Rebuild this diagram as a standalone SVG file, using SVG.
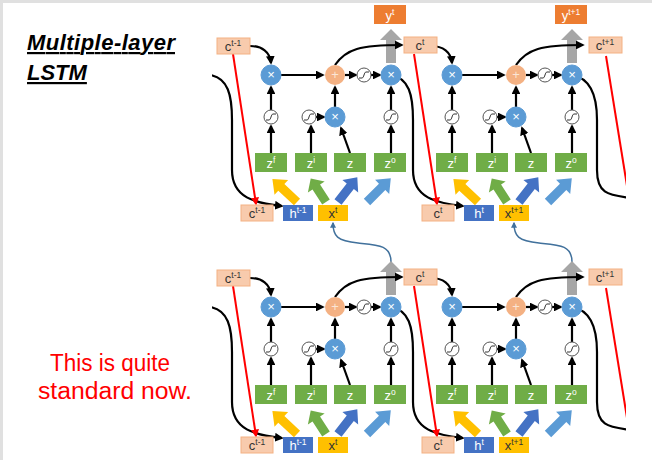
<svg xmlns="http://www.w3.org/2000/svg" xmlns:xlink="http://www.w3.org/1999/xlink" width="652" height="460" viewBox="0 0 652 460">
<style>
.ln{fill:none;stroke:#000;stroke-width:2.2;marker-end:url(#ah)}
.lc{fill:none;stroke:#000;stroke-width:2.2}
.red{fill:none;stroke:#F00;stroke-width:2;marker-end:url(#ar)}
.rc{fill:none;stroke:#F00;stroke-width:2}
.bl{fill:none;stroke:#41719C;stroke-width:1.5;marker-end:url(#ab)}
.mul{fill:#5B9BD5;stroke:#5B9BD5}
.sg{fill:#fff;stroke:#555;stroke-width:1}
.t{font-family:"Liberation Sans",Arial,sans-serif;font-size:13px;text-anchor:middle}
.w{fill:#fff}
.k{fill:#333}
.cb{fill:#F8CBAD;stroke:#F4B183}
.sup{font-size:8.5px}
</style>
<defs>
<marker id="ah" viewBox="0 0 10 10" refX="8" refY="5" markerWidth="4" markerHeight="4" orient="auto"><path d="M0,0L10,5L0,10z" fill="#000"/></marker>
<marker id="ar" viewBox="0 0 10 10" refX="8" refY="5" markerWidth="4" markerHeight="4" orient="auto"><path d="M0,0L10,5L0,10z" fill="#F00"/></marker>
<marker id="ab" viewBox="0 0 10 10" refX="8" refY="5" markerWidth="4" markerHeight="4" orient="auto"><path d="M0,0L10,5L0,10z" fill="#41719C"/></marker>
<clipPath id="clip"><rect x="212" y="0" width="414" height="460"/></clipPath>
<g id="sig"><circle r="7" class="sg"/><path d="M-5,3L-2,3C0,3 0,-3 2,-3L5,-3" fill="none" stroke="#333" stroke-width="1"/></g>
<path id="barrow" d="M0,-4.5L21,-4.5L21,-10L33,0L21,10L21,4.5L0,4.5z"/>
<g id="link">
<path class="ln" d="M210,75C228,78 232,95 232,120L232,170C232,198 255,203 282,206"/>
<line class="red" x1="233" y1="54" x2="256" y2="204"/>
</g>
<g id="link3">
<path class="lc" d="M572,75C590,78 597,95 597,120L597,170C597,195 610,195 630,198"/>
<line class="rc" x1="606" y1="56" x2="628" y2="192"/>
</g>
<g id="core">
<line class="ln" x1="271" y1="153" x2="271" y2="126"/>
<line class="ln" x1="271" y1="110" x2="271" y2="87"/>
<line class="ln" x1="311" y1="153" x2="311" y2="126"/>
<line class="ln" x1="316" y1="117" x2="324" y2="117"/>
<line class="ln" x1="350" y1="153" x2="341" y2="128"/>
<line class="ln" x1="335" y1="107" x2="335" y2="87"/>
<line class="ln" x1="281" y1="75" x2="323" y2="75"/>
<line class="ln" x1="345" y1="75" x2="356" y2="75"/>
<line class="ln" x1="371" y1="75" x2="380" y2="75"/>
<line class="ln" x1="391" y1="153" x2="391" y2="126"/>
<line class="ln" x1="391" y1="110" x2="391" y2="87"/>
<path class="ln" d="M250,46C262,46 270,52 271,63"/>
<polygon points="386,63 386,40 380,40 391,29 402,40 396,40 396,63" fill="#A6A6A6"/>
<path class="ln" d="M335,65C346,49 360,45 402,45"/>
<circle cx="271" cy="75" r="10" class="mul"/><text x="271" y="79" class="t w">×</text>
<circle cx="335" cy="75" r="10" fill="#F4B183"/><text x="335" y="79" class="t" fill="#FBE5D6">+</text>
<use href="#sig" x="364" y="75"/>
<circle cx="391" cy="75" r="10" class="mul"/><text x="391" y="79" class="t w">×</text>
<use href="#sig" x="271" y="117"/>
<use href="#sig" x="309" y="117"/>
<circle cx="335" cy="117" r="10" class="mul"/><text x="335" y="121" class="t w">×</text>
<use href="#sig" x="391" y="117"/>
<rect x="255" y="153" width="32" height="19" fill="#70AD47"/><text x="271" y="168" class="t w">z<tspan class="sup" dy="-5">f</tspan></text>
<rect x="295" y="153" width="32" height="19" fill="#70AD47"/><text x="311" y="168" class="t w">z<tspan class="sup" dy="-5">i</tspan></text>
<rect x="334" y="153" width="32" height="19" fill="#70AD47"/><text x="350" y="168" class="t w">z</text>
<rect x="374" y="153" width="32" height="19" fill="#70AD47"/><text x="390" y="168" class="t w">z<tspan class="sup" dy="-5">o</tspan></text>
<use href="#barrow" fill="#FFC000" transform="translate(297,202) rotate(-137) scale(1.02,1)"/>
<use href="#barrow" fill="#70AD47" transform="translate(326,202) rotate(-123) scale(0.85,1)"/>
<use href="#barrow" fill="#4472C4" transform="translate(338,202) rotate(-52) scale(0.95,1)"/>
<use href="#barrow" fill="#5B9BD5" transform="translate(367,202) rotate(-45) scale(1.02,1)"/>
</g>
</defs>
<rect x="0" y="0" width="652" height="460" fill="#fff"/>
<path d="M1.5,460V1.5H652" fill="none" stroke="#E0E0E0" stroke-width="3"/>
<g id="title" font-family="Liberation Sans,Arial,sans-serif" font-size="22" font-weight="bold" font-style="italic" text-decoration="underline"><text x="27" y="50" textLength="148">Multiple-layer</text>
<text x="27" y="80">LSTM</text></g>
<g id="note" font-family="Liberation Sans,Arial,sans-serif" font-size="23" fill="#F00"><text x="50" y="371" textLength="120" lengthAdjust="spacingAndGlyphs">This is quite</text><text x="38" y="399" textLength="154" lengthAdjust="spacingAndGlyphs">standard now.</text></g>
<g clip-path="url(#clip)">
<g id="connectors">
<use href="#link"/><use href="#link" x="181"/><use href="#link3"/>
<use href="#link" y="232"/><use href="#link" x="181" y="232"/><use href="#link3" y="232"/>
<path class="bl" d="M391,262C391,245 378,245 358,243C337,241 333,236 333,223"/>
<path class="bl" d="M572,262C572,245 559,245 539,243C518,241 514,236 514,223"/>
</g>
<g id="cell-top-1"><use href="#core"/></g>
<g id="cell-top-2"><use href="#core" x="181"/></g>
<g id="cell-bot-1"><use href="#core" y="232"/></g>
<g id="cell-bot-2"><use href="#core" x="181" y="232"/></g>
<g id="y-t"><rect x="374" y="5" width="32" height="19" fill="#ED7D31"/><text x="390" y="20" class="t w">y<tspan class="sup" dy="-5">t</tspan></text></g>
<g id="y-t1"><rect x="555" y="5" width="32" height="19" fill="#ED7D31"/><text x="571" y="20" class="t w">y<tspan class="sup" dy="-5">t+1</tspan></text></g>
<g id="c-top"><rect x="217" y="38" width="33" height="16" class="cb"/><text x="233" y="51" class="t k">c<tspan class="sup" dy="-5">t-1</tspan></text>
<rect x="404" y="37" width="33" height="16" class="cb"/><text x="420" y="50" class="t k">c<tspan class="sup" dy="-5">t</tspan></text>
<rect x="589" y="37" width="33" height="16" class="cb"/><text x="605" y="50" class="t k">c<tspan class="sup" dy="-5">t+1</tspan></text></g>
<g id="in-top"><rect x="241" y="205" width="32" height="16" class="cb"/><text x="257" y="218" class="t k">c<tspan class="sup" dy="-5">t-1</tspan></text>
<rect x="283" y="205" width="30" height="16" fill="#4472C4"/><text x="298" y="218" class="t w">h<tspan class="sup" dy="-5">t-1</tspan></text>
<rect x="318" y="205" width="30" height="16" fill="#FFC000"/><text x="333" y="218" class="t k">x<tspan class="sup" dy="-5">t</tspan></text>
<rect x="422" y="205" width="32" height="16" class="cb"/><text x="438" y="218" class="t k">c<tspan class="sup" dy="-5">t</tspan></text>
<rect x="464" y="205" width="30" height="16" fill="#4472C4"/><text x="479" y="218" class="t w">h<tspan class="sup" dy="-5">t</tspan></text>
<rect x="499" y="205" width="30" height="16" fill="#FFC000"/><text x="514" y="218" class="t k">x<tspan class="sup" dy="-5">t+1</tspan></text></g>
<g id="c-bot"><rect x="217" y="270" width="33" height="16" class="cb"/><text x="233" y="283" class="t k">c<tspan class="sup" dy="-5">t-1</tspan></text>
<rect x="404" y="269" width="33" height="16" class="cb"/><text x="420" y="282" class="t k">c<tspan class="sup" dy="-5">t</tspan></text>
<rect x="589" y="269" width="33" height="16" class="cb"/><text x="605" y="282" class="t k">c<tspan class="sup" dy="-5">t+1</tspan></text></g>
<g id="in-bot"><rect x="241" y="437" width="32" height="16" class="cb"/><text x="257" y="450" class="t k">c<tspan class="sup" dy="-5">t-1</tspan></text>
<rect x="283" y="437" width="30" height="16" fill="#4472C4"/><text x="298" y="450" class="t w">h<tspan class="sup" dy="-5">t-1</tspan></text>
<rect x="318" y="437" width="30" height="16" fill="#FFC000"/><text x="333" y="450" class="t k">x<tspan class="sup" dy="-5">t</tspan></text>
<rect x="422" y="437" width="32" height="16" class="cb"/><text x="438" y="450" class="t k">c<tspan class="sup" dy="-5">t</tspan></text>
<rect x="464" y="437" width="30" height="16" fill="#4472C4"/><text x="479" y="450" class="t w">h<tspan class="sup" dy="-5">t</tspan></text>
<rect x="499" y="437" width="30" height="16" fill="#FFC000"/><text x="514" y="450" class="t k">x<tspan class="sup" dy="-5">t+1</tspan></text></g>
</g>
</svg>
